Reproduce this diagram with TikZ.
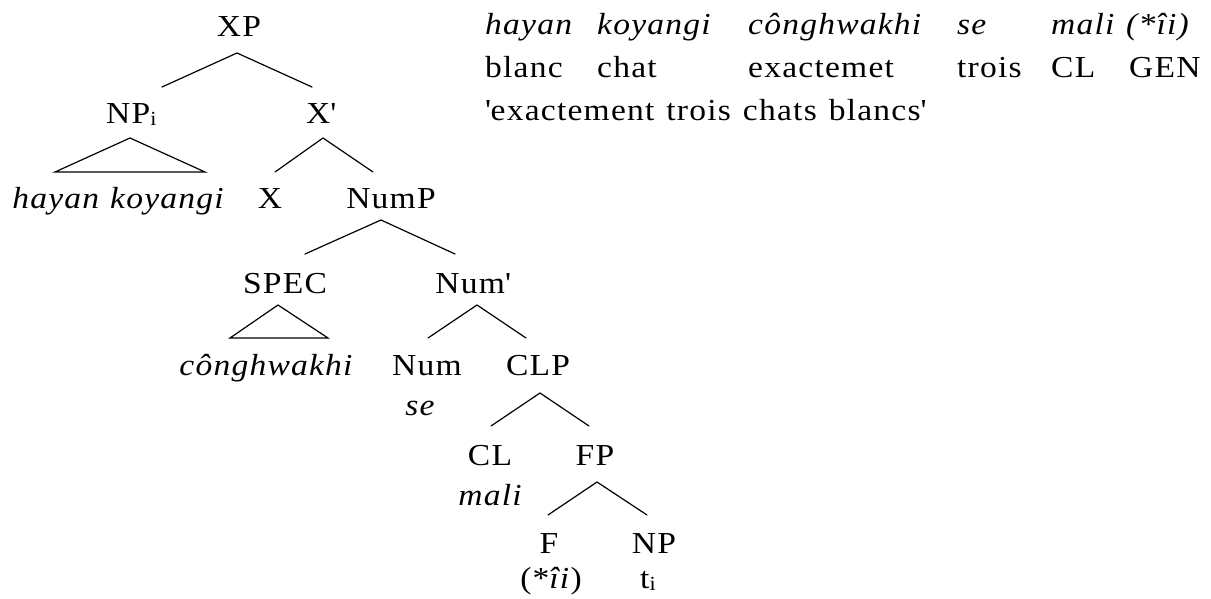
\documentclass[tikz,border=0pt]{standalone}
\usepackage{fontspec}
\setmainfont{Liberation Serif}[FakeStretch=1.1,LetterSpace=4]
\newcommand{\sq}{\textquotesingle}
\newcommand{\subi}{\raisebox{-2pt}{\fontsize{20}{20}\selectfont i}}
\newcommand{\wsp}{\hspace{12pt}}
\tikzset{
  lbl/.style={anchor=base,inner sep=0pt,font=\fontsize{30.5}{36}\selectfont},
  lblw/.style={anchor=base west,inner sep=0pt,font=\fontsize{30.5}{36}\selectfont},
  itl/.style={font=\fontsize{30.5}{36}\selectfont\itshape},
  br/.style={line width=1.2pt,line cap=round,line join=miter}
}
\begin{document}
\begin{tikzpicture}[x=1pt,y=-1pt]
\useasboundingbox (0,0) rectangle (1211,599);
% ---- tree labels
\node[lbl] (XP) at (239,37) {XP};
\node[lblw] (NPi) at (106,124) {NP\subi};
\node[lbl] (Xbar) at (321,124) {X\sq};
\node[lbl,itl] (hk) at (118,208) {hayan\hspace{11pt}koyangi};
\node[lbl] (X) at (270,208) {X};
\node[lbl] (NumP) at (391,208) {NumP};
\node[lbl] (SPEC) at (285,293) {SPEC};
\node[lbl] (Numbar) at (473,293) {Num\sq};
\node[lbl,itl] (cong) at (266,375) {cônghwakhi};
\node[lbl] (Num) at (427,375) {Num};
\node[lbl] (CLP) at (538,375) {CLP};
\node[lbl,itl] (se) at (420,415) {se};
\node[lbl] (CL) at (490,465) {CL};
\node[lbl] (FP) at (595,465) {FP};
\node[lbl,itl] (mali) at (490,505) {mali};
\node[lbl] (F) at (549,553) {F};
\node[lbl] (NP) at (654,553) {NP};
\node[lbl] (Fii) at (551,588) {(*\textit{îi})};
\node[lblw] (ti) at (640,588) {t\subi};
% ---- branch points
\coordinate (XPa) at (237,53);  \coordinate (XPl) at (162,87);  \coordinate (XPr) at (312,87);
\coordinate (NPa) at (130,138); \coordinate (NPl) at (55,172);  \coordinate (NPr) at (205,172);
\coordinate (Xa) at (323,138);  \coordinate (Xl) at (275,172);  \coordinate (Xr) at (373,172);
\coordinate (NumPa) at (381,220); \coordinate (NumPl) at (305,254); \coordinate (NumPr) at (455,254);
\coordinate (SPa) at (278,305); \coordinate (SPl) at (230,338); \coordinate (SPr) at (328,338);
\coordinate (Nba) at (477,305); \coordinate (Nbl) at (428,338); \coordinate (Nbr) at (526,338);
\coordinate (CLPa) at (540,393); \coordinate (CLPl) at (491,426); \coordinate (CLPr) at (589,426);
\coordinate (FPa) at (597,482); \coordinate (FPl) at (548,515); \coordinate (FPr) at (647,515);
% ---- branches
\draw[br] (XPl) -- (XPa) -- (XPr);
\draw[br] (NPa) -- (NPl) -- (NPr) -- cycle;
\draw[br] (Xl) -- (Xa) -- (Xr);
\draw[br] (NumPl) -- (NumPa) -- (NumPr);
\draw[br] (SPa) -- (SPl) -- (SPr) -- cycle;
\draw[br] (Nbl) -- (Nba) -- (Nbr);
\draw[br] (CLPl) -- (CLPa) -- (CLPr);
\draw[br] (FPl) -- (FPa) -- (FPr);
% ---- gloss
\node[lblw,itl] (g1a) at (485,35) {hayan};
\node[lblw,itl] (g1b) at (597,35) {koyangi};
\node[lblw,itl] (g1c) at (748,35) {cônghwakhi};
\node[lblw,itl] (g1d) at (957,35) {se};
\node[lblw,itl] (g1e) at (1051,35) {mali};
\node[lblw,itl] (g1f) at (1126,35) {(*îi)};
\node[lblw] (g2a) at (485,78) {blanc};
\node[lblw] (g2b) at (597,78) {chat};
\node[lblw] (g2c) at (748,78) {exactemet};
\node[lblw] (g2d) at (957,78) {trois};
\node[lblw] (g2e) at (1051,78) {CL};
\node[lblw] (g2f) at (1129,78) {GEN};
\node[lblw] (g3) at (485,121) {\sq exactement\wsp trois\wsp chats\wsp blancs\sq};
\end{tikzpicture}
\end{document}
